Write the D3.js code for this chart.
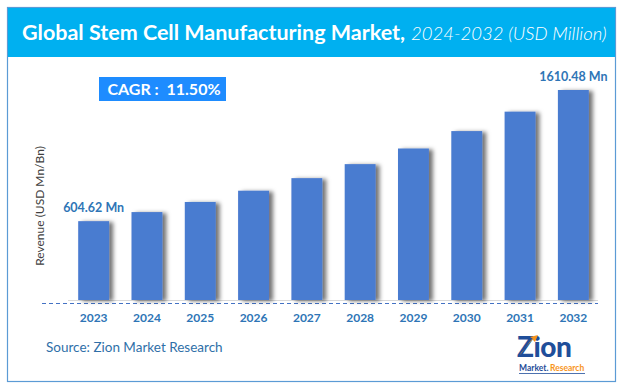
<!DOCTYPE html>
<html>
<head>
<meta charset="utf-8">
<script src="https://cdnjs.cloudflare.com/ajax/libs/d3/7.8.5/d3.min.js"></script>
<style>
  body { margin: 0; background: #fff; }
  svg { display: block; font-family: Lato, "Open Sans", sans-serif; }
</style>
</head>
<body>
<div id="chart"></div>
<script>
// chart data
var years = ["2023", "2024", "2025", "2026", "2027", "2028", "2029", "2030", "2031", "2032"];
var revenue = [604.62, 674.2, 751.7, 838.1, 934.5, 1042.0, 1161.8, 1295.4, 1444.4, 1610.48];
var labelText = { "2023": "604.62 Mn", "2032": "1610.48 Mn" };
var cagrText = "CAGR :  11.50%";

var svgWidth = 624, svgHeight = 389;

var svg = d3.select("#chart")
  .append("svg")
  .attr("width", svgWidth)
  .attr("height", svgHeight);

var defs = svg.append("defs");
var shadow = defs.append("filter")
  .attr("id", "barShadow")
  .attr("x", "-20%").attr("y", "-10%")
  .attr("width", "160%").attr("height", "120%");
shadow.append("feDropShadow")
  .attr("dx", 4).attr("dy", 1)
  .attr("stdDeviation", 2.2)
  .attr("flood-color", "#000")
  .attr("flood-opacity", 0.55);

// frame + title bar
svg.append("rect")
  .attr("x", 7.5).attr("y", 7.5)
  .attr("width", 608).attr("height", 374)
  .attr("fill", "#fff")
  .attr("stroke", "#5B9BD5")
  .attr("stroke-width", 1.2);

svg.append("rect")
  .attr("x", 8).attr("y", 8)
  .attr("width", 607).attr("height", 49)
  .attr("fill", "#00B0F0");

var title = svg.append("text")
  .attr("x", 22).attr("y", 40)
  .attr("fill", "#fff");
title.append("tspan")
  .attr("font-weight", "bold")
  .attr("font-size", 21.5)
  .text("Global Stem Cell Manufacturing Market,");
title.append("tspan")
  .attr("font-style", "italic")
  .attr("font-weight", 300)
  .attr("font-size", 18.5)
  .attr("dx", 6)
  .text("2024-2032 (USD Million)");

// scales
var x = d3.scaleBand()
  .domain(years)
  .range([67, 600])
  .paddingInner(0.42)
  .paddingOuter(0.21);

var y = d3.scaleLinear()
  .domain([0, d3.max(revenue)])
  .range([300, 90]);

var chartGroup = svg.append("g");

// baseline
chartGroup.append("line")
  .attr("x1", 68).attr("x2", 598)
  .attr("y1", 300.5).attr("y2", 300.5)
  .attr("stroke", "#D9D9D9")
  .attr("stroke-width", 1);

chartGroup.append("line")
  .attr("x1", 42).attr("x2", 598)
  .attr("y1", 303.5).attr("y2", 303.5)
  .attr("stroke", "#4472C4")
  .attr("stroke-width", 1)
  .attr("stroke-dasharray", "4,3");

// bars
chartGroup.append("g")
  .selectAll("rect")
  .data(years)
  .enter()
  .append("rect")
  .attr("x", d => x(d))
  .attr("y", (d, i) => y(revenue[i]))
  .attr("width", x.bandwidth())
  .attr("height", (d, i) => 300 - y(revenue[i]))
  .attr("fill", "#4A7BD0")
  .attr("filter", "url(#barShadow)");

// x axis
var xAxis = d3.axisBottom(x).tickSize(0).tickPadding(8);
var xg = chartGroup.append("g")
  .attr("transform", "translate(0,305)")
  .call(xAxis);
xg.select(".domain").remove();
xg.selectAll("text")
  .attr("font-family", "Lato, sans-serif")
  .attr("font-size", 12)
  .attr("font-weight", "bold")
  .attr("fill", "#2E75B6");

// value labels
chartGroup.selectAll(".val")
  .data(years.filter(d => labelText[d]))
  .enter()
  .append("text")
  .attr("class", "val")
  .attr("x", d => x(d) + x.bandwidth() / 2)
  .attr("y", d => y(revenue[years.indexOf(d)]) - 9)
  .attr("text-anchor", "middle")
  .attr("font-size", 12.5)
  .attr("font-weight", "bold")
  .attr("fill", "#2E75B6")
  .text(d => labelText[d]);

// CAGR box
svg.append("rect")
  .attr("x", 99).attr("y", 77)
  .attr("width", 127).attr("height", 24)
  .attr("fill", "#1E8CFF");
svg.append("text")
  .attr("x", 164).attr("y", 95)
  .attr("text-anchor", "middle")
  .attr("fill", "#fff")
  .attr("font-size", 16)
  .attr("font-weight", "bold")
  .style("white-space", "pre")
  .text(cagrText);

// y axis title
svg.append("text")
  .attr("transform", "translate(44,206) rotate(-90)")
  .attr("text-anchor", "middle")
  .attr("font-size", 12)
  .attr("fill", "#404040")
  .text("Revenue (USD Mn/Bn)");

// source
svg.append("text")
  .attr("x", 46).attr("y", 352)
  .attr("font-size", 13.5)
  .attr("fill", "#2F6FA8")
  .text("Source: Zion Market Research");

// logo
var logo = svg.append("g").attr("transform", "translate(517,333)");
logo.append("text")
  .attr("x", 0).attr("y", 24)
  .attr("font-size", 28)
  .attr("font-weight", 900)
  .attr("letter-spacing", -0.5)
  .attr("fill", "#1F4E9A")
  .text("Zion");
logo.append("path")
  .attr("d", "M3,22 L15,6 L18,9 L21,2 L13,4 L16,6 L4,20 Z")
  .attr("fill", "#F7941D");
logo.append("text")
  .attr("x", 2).attr("y", 38)
  .attr("font-size", 8.5)
  .attr("font-weight", "bold")
  .attr("fill", "#1F4E9A")
  .text("Market.");
logo.append("text")
  .attr("x", 33).attr("y", 38)
  .attr("font-size", 8.5)
  .attr("font-weight", "bold")
  .attr("fill", "#F7941D")
  .text("Research");
logo.append("line")
  .attr("x1", 2).attr("x2", 68)
  .attr("y1", 40.5).attr("y2", 40.5)
  .attr("stroke", "#1F4E9A")
  .attr("stroke-width", 0.8);
</script>
</body>
</html>
